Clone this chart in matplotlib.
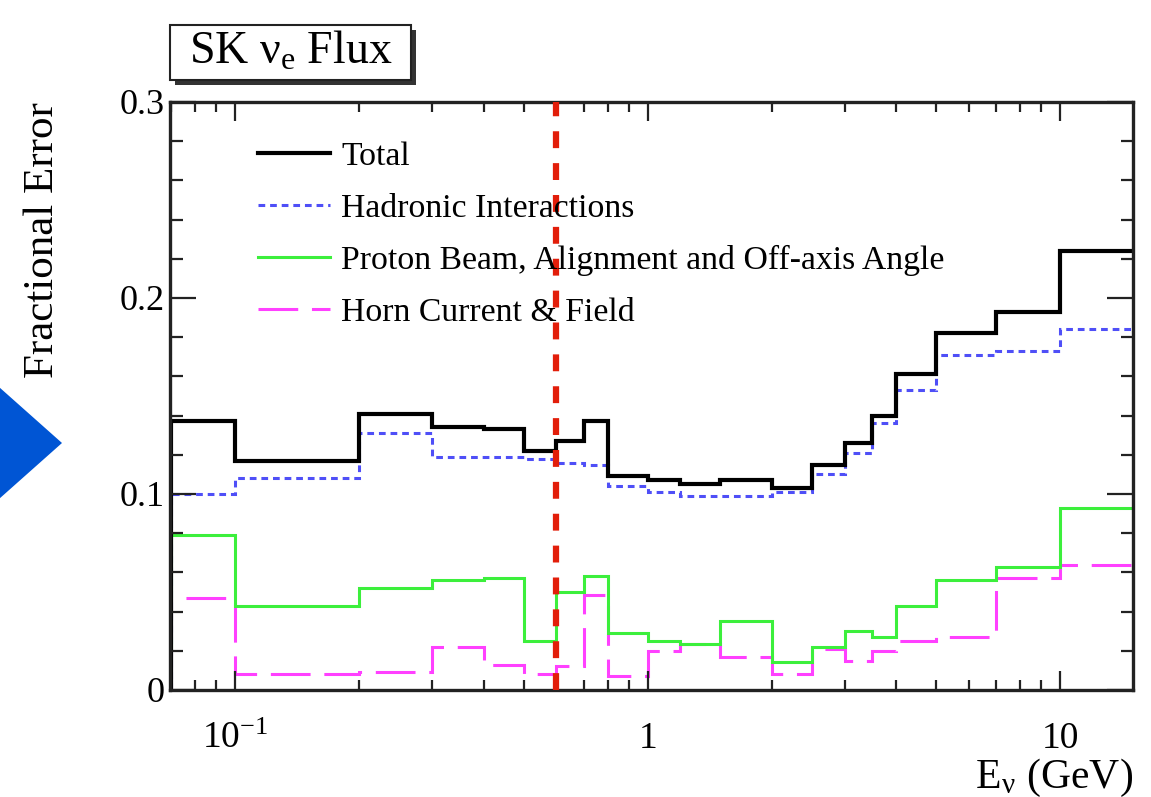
import matplotlib
matplotlib.use("Agg")
import matplotlib.pyplot as plt
from matplotlib.lines import Line2D
from matplotlib.patches import Rectangle, Polygon
from matplotlib.ticker import (FixedLocator, FixedFormatter, LogLocator,
                               NullFormatter, MultipleLocator)

plt.rcParams['font.family'] = ['Liberation Serif', 'DejaVu Serif']
plt.rcParams['mathtext.fontset'] = 'stix'

# Energy bin edges (GeV)
bin_edges = [0.07, 0.1, 0.2, 0.3, 0.4, 0.5, 0.6, 0.7, 0.8, 1.0, 1.2, 1.5,
             2.0, 2.5, 3.0, 3.5, 4.0, 5.0, 7.0, 10.0, 30.0]

# Fractional flux errors per bin
total = [0.137, 0.117, 0.141, 0.134, 0.133, 0.122, 0.127, 0.137, 0.109, 0.107,
         0.105, 0.107, 0.103, 0.115, 0.126, 0.140, 0.161, 0.182, 0.193, 0.224]
hadronic = [0.100, 0.108, 0.131, 0.119, 0.119, 0.118, 0.116, 0.115, 0.104, 0.101,
            0.099, 0.099, 0.101, 0.110, 0.121, 0.136, 0.153, 0.171, 0.173, 0.184]
proton_beam = [0.079, 0.043, 0.052, 0.056, 0.057, 0.025, 0.050, 0.058, 0.029, 0.025,
               0.0235, 0.035, 0.0145, 0.022, 0.030, 0.027, 0.043, 0.056, 0.063, 0.093]
horn = [0.047, 0.008, 0.009, 0.022, 0.013, 0.008, 0.012, 0.0485, 0.007, 0.020,
        0.0235, 0.017, 0.008, 0.021, 0.015, 0.020, 0.025, 0.027, 0.057, 0.064]

series_labels = ["Total", "Hadronic Interactions",
                 "Proton Beam, Alignment and Off-axis Angle",
                 "Horn Current & Field"]

energy_cut = 0.6

x_ticks = [0.1, 1, 10]
x_tick_labels = [r"$\mathregular{10^{-1}}$", "1", "10"]
y_ticks = [0, 0.1, 0.2, 0.3]
y_tick_labels = ["0", "0.1", "0.2", "0.3"]

W, H = 1151, 797
fig = plt.figure(figsize=(W / 100, H / 100), dpi=100)
fig.patch.set_facecolor('white')

ax = fig.add_axes([170 / W, 1 - 690 / H, 963 / W, 588 / H])
ax.set_xscale('log')
ax.set_xlim(0.0695, 15)
ax.set_ylim(0, 0.3)

styles = [
    dict(color='black', lw=3.0, linestyle='-'),
    dict(color='#4f4ff7', lw=2.2, linestyle=(0, (2.2, 1.6))),
    dict(color='#3cef3c', lw=2.2, linestyle='-'),
    dict(color='#ff40ff', lw=2.2, linestyle=(0, (13, 4.5))),
]
data = [total, hadronic, proton_beam, horn]

for vals, st in list(zip(data, styles))[::-1]:
    ax.stairs(vals, bin_edges, baseline=0, **st)

ax.axvline(energy_cut, color='#e21e0a', lw=4.5, linestyle=(0, (2.7, 2.4)),
           zorder=5)

# Axes styling
for sp in ax.spines.values():
    sp.set_linewidth(2.4)
    sp.set_color('#222222')

ax.xaxis.set_major_locator(FixedLocator(x_ticks))
ax.xaxis.set_major_formatter(FixedFormatter(x_tick_labels))
ax.xaxis.set_minor_locator(LogLocator(base=10, subs=[2, 3, 4, 5, 6, 7, 8, 9]))
ax.xaxis.set_minor_formatter(NullFormatter())
ax.yaxis.set_major_locator(FixedLocator(y_ticks))
ax.yaxis.set_major_formatter(FixedFormatter(y_tick_labels))
ax.yaxis.set_minor_locator(MultipleLocator(0.02))

ax.tick_params(which='both', direction='in', top=True, right=True,
               color='#222222', width=1.6)
ax.tick_params(axis='x', which='major', length=14, labelsize=27, pad=42)
ax.tick_params(axis='x', which='minor', length=7)
ax.tick_params(axis='y', which='major', length=19, labelsize=26, pad=4)
ax.tick_params(axis='y', which='minor', length=9)
for t in ax.xaxis.get_major_ticks():
    t.label1.set_verticalalignment('baseline')

ax.set_ylabel("Fractional Error", fontsize=31, loc='top', va='center')
ax.yaxis.set_label_coords(-0.132, 1.0)
ax.set_xlabel(r"E$_\mathregular{\nu}$ (GeV)", fontsize=30, loc='right',
              va='center')
ax.xaxis.set_label_coords(1.0, -0.15)

# Legend
handles = [Line2D([], [], **st) for st in styles]
ax.legend(handles, series_labels, loc='upper left',
          bbox_to_anchor=((258 - 170) / 963, (690 - 141) / 588),
          frameon=False, fontsize=24.3, handlelength=2.14, handletextpad=0.33,
          labelspacing=0.63, borderpad=0, borderaxespad=0)

# Title box with drop shadow
bx0, by0, bx1, by1 = 170, 25, 411, 80
sh = 5
fig.patches.append(Rectangle(((bx0 + sh) / W, 1 - (by1 + sh) / H),
                             (bx1 - bx0) / W, (by1 - by0) / H,
                             transform=fig.transFigure, facecolor='#333333',
                             edgecolor='none', zorder=1))
fig.patches.append(Rectangle((bx0 / W, 1 - by1 / H), (bx1 - bx0) / W,
                             (by1 - by0) / H, transform=fig.transFigure,
                             facecolor='white', edgecolor='#222222',
                             lw=1.5, zorder=2))
fig.text((bx0 + bx1) / 2 / W, 1 - (by0 + by1) / 2 / H,
         r"SK $\mathregular{\nu_e}$ Flux", fontsize=33,
         ha='center', va='center', zorder=3)

# Pointer arrow on the left margin
fig.patches.append(Polygon([(-10 / W, 1 - 379 / H), (62 / W, 1 - 443 / H),
                            (-10 / W, 1 - 507 / H)], closed=True,
                           transform=fig.transFigure, facecolor='#0055d4',
                           edgecolor='none'))

fig.savefig("out.png", dpi=100)
